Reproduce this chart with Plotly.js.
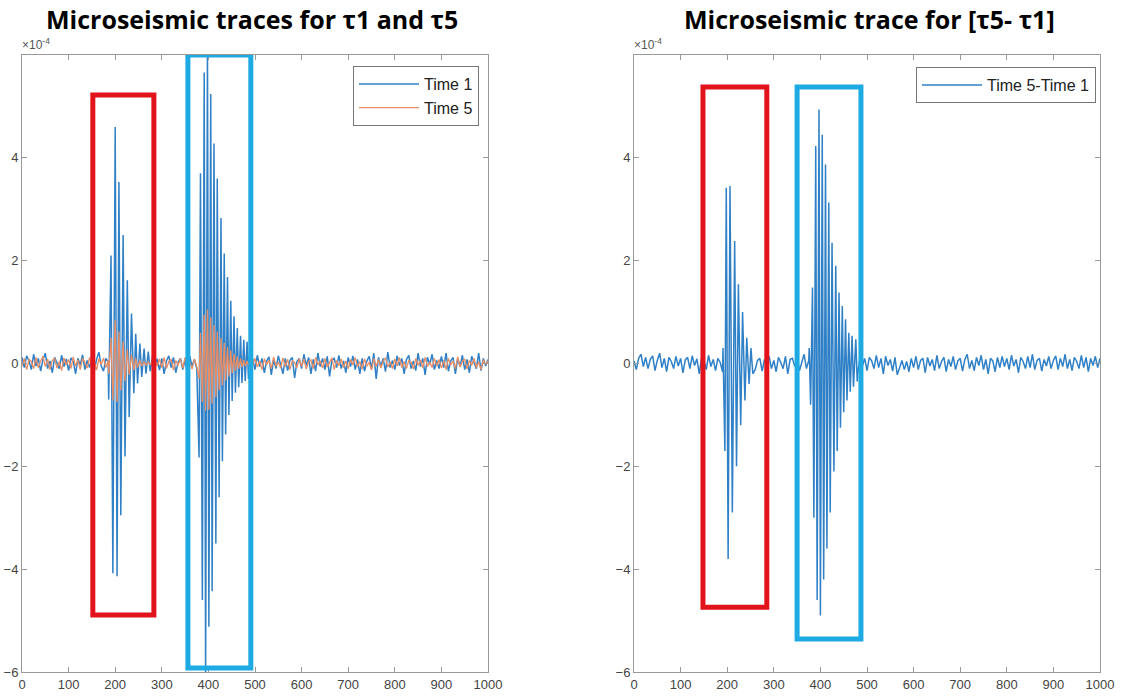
<!DOCTYPE html>
<html><head><meta charset="utf-8">
<script src="https://cdn.plot.ly/plotly-3.0.1.min.js"></script>
<style>html,body{margin:0;padding:0;background:#fff}#chart{width:1121px;height:698px}</style>
</head><body><div id="chart"></div><script>
// All amplitudes in units of 1e-4
const noiseStep = 5; // background noise read every 5 samples, x = 0..1000

const time1Noise = [
0.12,-0.08,0.15,0.05,-0.12,0.18,-0.05,0.1,-0.15,0.08,0.2,-0.1,0.05,-0.18,0.12,0.02,-0.1,0.16,-0.06,0.09,
-0.14,0.11,0.04,-0.2,0.1,-0.03,0.17,-0.12,0.06,-0.08,0.14,-0.16,0.08,0.22,-0.05,-0.15,0.1,0.03,-0.1,0.12,
-0.09,0.1,-0.12,0.05,0.18,-0.07,0.1,-0.14,0.02,0.15,-0.1,0.08,-0.16,0.12,0.06,-0.11,0.2,-0.04,0.09,-0.13,
0.1,-0.2,0.05,0.15,-0.08,0.12,-0.18,0.03,0.1,-0.12,0.07,-0.22,0.14,-0.05,0.08,-0.1,0.12,-0.06,0.02,0.05,
0.1,-0.1,0.05,-0.05,0.08,-0.12,0.14,-0.1,0.06,0.03,-0.15,0.1,-0.08,0.12,-0.04,0.18,-0.25,0.15,-0.2,0.1,
-0.12,0.16,-0.06,0.1,-0.18,0.05,0.13,-0.22,0.08,-0.1,0.15,-0.05,-0.2,0.1,-0.14,0.06,0.12,-0.28,0.04,0.1,
-0.1,0.18,-0.04,0.12,-0.2,0.08,-0.15,0.2,-0.06,0.1,-0.12,0.14,-0.25,0.06,0.1,-0.08,0.16,-0.1,0.05,-0.18,
0.12,-0.06,0.15,-0.12,0.08,-0.2,0.1,-0.15,0.05,0.14,-0.1,0.2,-0.3,0.12,-0.05,0.1,-0.16,0.22,-0.08,0.06,
-0.12,0.15,-0.04,0.1,-0.2,0.08,0.16,-0.1,0.05,-0.14,0.2,-0.06,0.1,-0.22,0.12,-0.02,0.18,-0.12,0.06,-0.1,
0.14,-0.08,0.2,-0.15,0.05,0.12,-0.2,0.1,-0.06,0.16,-0.12,0.08,-0.18,0.14,0.03,-0.1,0.2,-0.14,0.1,-0.05,
0.08];

const time5Noise = [
-0.05,0.1,-0.12,0.08,0.04,-0.1,0.12,-0.08,0.05,0.14,-0.06,0.09,-0.12,0.06,0.1,-0.09,0.04,-0.14,0.11,-0.03,
0.08,-0.1,0.13,-0.05,0.07,-0.12,0.1,0.02,-0.09,0.12,-0.06,0.05,-0.13,0.09,-0.02,0.11,-0.08,0.06,-0.1,0.04,
0.07,-0.09,0.12,-0.04,0.06,-0.11,0.09,-0.06,0.13,-0.02,0.05,-0.12,0.1,-0.07,0.03,0.11,-0.1,0.06,-0.05,0.09,
-0.08,0.12,-0.1,0.04,0.08,-0.13,0.06,-0.04,0.1,-0.09,0.12,-0.05,0.03,-0.11,0.09,-0.06,0.05,0.1,-0.08,0.02,
-0.06,0.08,-0.1,0.05,-0.03,0.09,-0.07,0.11,-0.04,0.06,-0.1,0.08,0.02,-0.09,0.12,-0.06,0.04,-0.11,0.07,-0.03,
0.1,-0.07,0.05,-0.12,0.09,-0.02,0.06,-0.1,0.13,-0.05,0.03,-0.09,0.11,-0.06,0.08,-0.12,0.05,0.02,-0.08,0.1,
-0.06,0.09,-0.11,0.04,0.07,-0.1,0.12,-0.03,0.05,-0.09,0.1,-0.07,0.03,0.11,-0.12,0.06,-0.04,0.09,-0.08,0.05,
-0.1,0.08,-0.03,0.12,-0.07,0.04,-0.11,0.09,-0.05,0.02,-0.13,0.1,-0.06,0.08,-0.09,0.05,0.11,-0.07,0.03,-0.1,
0.09,-0.05,0.12,-0.08,0.04,-0.1,0.06,0.02,-0.11,0.1,-0.04,0.07,-0.09,0.12,-0.06,0.03,-0.08,0.1,-0.05,0.08,
-0.09,0.06,-0.12,0.1,-0.03,0.05,-0.1,0.13,-0.07,0.04,0.09,-0.11,0.06,-0.04,0.1,-0.08,0.03,-0.12,0.07,-0.02,
0.05];

const diffNoise = [
0.05,-0.12,0.1,0.18,-0.06,0.12,-0.1,0.08,0.15,-0.14,0.06,0.2,-0.08,0.1,-0.16,0.12,0.04,-0.1,0.14,-0.05,
0.1,-0.18,0.07,0.12,-0.1,0.15,-0.04,0.09,-0.2,0.11,0.05,-0.12,0.16,-0.06,0.08,-0.14,0.1,0.02,-0.16,0.12,
-0.05,0.1,-0.14,0.08,0.15,-0.1,0.06,-0.18,0.12,0.04,-0.08,0.2,-0.12,0.06,0.1,-0.15,0.08,-0.04,0.14,-0.1,
0.06,-0.16,0.12,0.02,-0.1,0.14,-0.2,0.08,0.1,-0.06,0.12,-0.14,0.05,0.18,-0.1,0.06,-0.12,0.1,-0.05,0.08,
0.1,-0.08,0.05,-0.1,0.12,-0.06,0.08,-0.12,0.04,0.1,-0.15,0.12,-0.08,0.06,-0.1,0.15,-0.2,0.12,-0.05,0.1,
-0.14,0.12,0.05,-0.1,0.16,-0.08,0.1,-0.2,0.14,-0.04,0.08,-0.15,0.12,-0.22,-0.1,0.06,-0.12,0.04,-0.16,0.1,
-0.08,0.14,-0.12,0.06,0.1,-0.18,0.12,-0.05,0.08,-0.14,0.16,-0.1,0.04,0.12,-0.16,0.08,-0.06,0.14,-0.12,0.05,
0.1,-0.15,0.08,0.18,-0.1,0.06,-0.14,0.12,-0.04,0.16,-0.12,0.08,-0.2,0.1,0.05,-0.16,0.12,-0.08,0.14,-0.06,
0.1,-0.12,0.16,-0.05,0.08,-0.18,0.12,0.04,-0.1,0.14,-0.08,0.18,-0.12,0.06,0.1,-0.15,0.08,-0.05,0.14,-0.1,
0.06,0.15,-0.12,0.1,-0.06,0.18,-0.1,0.08,-0.14,0.12,0.04,-0.1,0.16,-0.08,0.12,-0.16,0.1,-0.04,0.14,-0.08,
0.1];

// Burst extrema (sample index, amplitude)
const leftBurst1X = [186,191,195,200,204,208,212,217,221,226,230,235,240,244,248,253,257,262,266,271,275,280];
const time1Burst1Y = [-0.7,2.1,-4.08,4.6,-4.14,3.53,-2.95,2.5,-1.81,1.62,-1.04,0.97,-0.58,0.58,-0.39,0.39,-0.26,0.29,-0.2,0.23,-0.15,0.12];
const time5Burst1Y = [-0.2,0.5,-0.72,0.84,-0.75,0.62,-0.52,0.42,-0.34,0.27,-0.22,0.17,-0.13,0.1,-0.08,0.06,-0.05,0.04,-0.03,0.03,-0.02,0.02];

const leftBurst2X = [380,383,387,391,394,398,401,405,408,412,416,419,423,427,430,434,437,441,444,448,451,455,458,462,465,469,472,476,479,483,486,489];
const time1Burst2Y = [-1.83,3.7,-4.6,5.66,-6.2,6.2,-5.12,5.24,-4.43,4.28,-3.5,3.6,-2.6,2.83,-1.9,2.14,-1.38,1.68,-1.0,1.22,-0.73,0.92,-0.57,0.69,-0.46,0.54,-0.38,0.46,-0.34,0.42,-0.3,0.3];
const time5Burst2Y = [-0.3,0.6,-0.75,0.95,-0.92,1.05,-0.9,0.9,-0.78,0.75,-0.65,0.62,-0.52,0.5,-0.42,0.4,-0.33,0.32,-0.25,0.25,-0.19,0.19,-0.14,0.14,-0.1,0.1,-0.07,0.07,-0.05,0.05,-0.04,0.03];

const diffBurst1X = [191,195,198,202,206,211,216,220,224,229,233,238,242,247,251,255];
const diffBurst1Y = [0.3,-1.7,3.42,-3.8,3.45,-2.9,2.38,-2.0,1.54,-1.2,1.0,-0.72,0.5,-0.4,0.3,-0.2];
const diffBurst2X = [376,379,383,386,390,393,397,400,404,407,411,414,418,421,425,429,433,436,440,443,447,450,454,457,461,464,468,471,476,479];
const diffBurst2Y = [0.3,-0.8,1.48,-3.0,4.23,-4.6,4.94,-4.9,4.45,-4.2,3.87,-3.6,3.13,-2.9,2.35,-2.1,1.9,-1.7,1.38,-1.25,1.12,-0.95,0.86,-0.72,0.6,-0.55,0.54,-0.45,0.47,-0.35];

// Highlighted windows [x0, x1, y0, y1]
const leftRedWindow = [152, 283, -4.89, 5.22];
const leftCyanWindow = [356, 491, -5.92, 6.0];
const rightRedWindow = [148, 285, -4.74, 5.38];
const rightCyanWindow = [350, 487, -5.36, 5.38];

const xTicks = [0,100,200,300,400,500,600,700,800,900,1000];
const yTicks = [-6,-4,-2,0,2,4];
const seriesNames = ['Time 1','Time 5','Time 5-Time 1'];
const titles = ['Microseismic traces for \u03c41 and \u03c45','Microseismic trace for [\u03c45- \u03c41]'];

function compose(noise, bursts) {
  const pts = [];
  noise.forEach((v, i) => {
    const x = i * noiseStep;
    if (!bursts.some(b => x >= b[0][0] && x <= b[0][b[0].length - 1])) pts.push([x, v]);
  });
  bursts.forEach(b => b[0].forEach((x, i) => pts.push([x, b[1][i]])));
  pts.sort((a, b) => a[0] - b[0]);
  return {x: pts.map(p => p[0]), y: pts.map(p => p[1])};
}

const t1 = compose(time1Noise, [[leftBurst1X, time1Burst1Y], [leftBurst2X, time1Burst2Y]]);
const t5 = compose(time5Noise, [[leftBurst1X, time5Burst1Y], [leftBurst2X, time5Burst2Y]]);
const df = compose(diffNoise, [[diffBurst1X, diffBurst1Y], [diffBurst2X, diffBurst2Y]]);

const blue = '#2f80c6', orange = '#e88e66';
const traces = [
  {x: t1.x, y: t1.y, type: 'scatter', mode: 'lines', name: seriesNames[0], line: {color: blue, width: 1.5}, xaxis: 'x', yaxis: 'y', legend: 'legend'},
  {x: t5.x, y: t5.y, type: 'scatter', mode: 'lines', name: seriesNames[1], line: {color: orange, width: 1.3}, xaxis: 'x', yaxis: 'y', legend: 'legend'},
  {x: df.x, y: df.y, type: 'scatter', mode: 'lines', name: seriesNames[2], line: {color: blue, width: 1.5}, xaxis: 'x2', yaxis: 'y2', legend: 'legend2'}
];

const W = 1121, H = 698;
const tickFont = {family: 'Liberation Sans, Arial, sans-serif', size: 13, color: '#444'};
function xa(domain, anchor) {
  return {domain: domain, anchor: anchor, range: [0, 1000], tickvals: xTicks, ticks: 'inside', ticklen: 5,
    tickcolor: '#999', showline: true, linecolor: '#999', linewidth: 1, mirror: 'ticks', showgrid: false,
    zeroline: false, tickfont: tickFont, automargin: false, fixedrange: true};
}
function ya(domain, anchor) {
  return {domain: domain, anchor: anchor, range: [-6, 6], tickvals: yTicks, ticks: 'inside', ticklen: 5,
    tickcolor: '#999', showline: true, linecolor: '#999', linewidth: 1, mirror: 'ticks', showgrid: false,
    zeroline: false, tickfont: tickFont, automargin: false, fixedrange: true};
}
const yDom = [1 - 672 / H, 1 - 55 / H];
function box(w, xr, yr, color) {
  return {type: 'rect', xref: xr, yref: yr, x0: w[0], x1: w[1], y0: w[2], y1: w[3],
    line: {color: color, width: 5}, fillcolor: 'rgba(0,0,0,0)'};
}
const red = '#e3131b', cyan = '#1eaae2';
const legendStyle = {bordercolor: '#777', borderwidth: 1, bgcolor: '#fff', itemwidth: 60,
  font: {family: 'Liberation Sans, Arial, sans-serif', size: 16, color: '#222'}, xanchor: 'right', yanchor: 'top', tracegroupgap: 0};

const layout = {
  width: W, height: H, margin: {l: 0, r: 0, t: 0, b: 0}, paper_bgcolor: '#fff', plot_bgcolor: '#fff',
  showlegend: true,
  xaxis: xa([22 / W, 488 / W], 'y'), yaxis: ya(yDom, 'x'),
  xaxis2: xa([634 / W, 1100 / W], 'y2'), yaxis2: ya(yDom, 'x2'),
  legend: Object.assign({}, legendStyle, {x: 479 / W, y: 1 - 66 / H}),
  legend2: Object.assign({}, legendStyle, {x: 1096 / W, y: 1 - 67 / H}),
  shapes: [box(leftRedWindow, 'x', 'y', red), box(leftCyanWindow, 'x', 'y', cyan),
           box(rightRedWindow, 'x2', 'y2', red), box(rightCyanWindow, 'x2', 'y2', cyan)],
  annotations: [
    {text: '<b>' + titles[0] + '</b>', xref: 'paper', yref: 'paper', x: 252 / W, y: 1 - 19 / H, xanchor: 'center', yanchor: 'middle', showarrow: false,
      font: {family: 'Open Sans, sans-serif', size: 25, color: '#000'}},
    {text: '<b>' + titles[1] + '</b>', xref: 'paper', yref: 'paper', x: 869 / W, y: 1 - 19 / H, xanchor: 'center', yanchor: 'middle', showarrow: false,
      font: {family: 'Open Sans, sans-serif', size: 25, color: '#000'}},
    {text: '\u00d710<sup>-4</sup>', xref: 'paper', yref: 'paper', x: 20 / W, y: 1 - 54 / H, xanchor: 'left', yanchor: 'bottom', showarrow: false,
      font: {family: 'Liberation Sans, Arial, sans-serif', size: 12, color: '#555'}},
    {text: '\u00d710<sup>-4</sup>', xref: 'paper', yref: 'paper', x: 632 / W, y: 1 - 54 / H, xanchor: 'left', yanchor: 'bottom', showarrow: false,
      font: {family: 'Liberation Sans, Arial, sans-serif', size: 12, color: '#555'}}
  ]
};
Plotly.newPlot('chart', traces, layout, {displayModeBar: false, staticPlot: true});
</script></body></html>
